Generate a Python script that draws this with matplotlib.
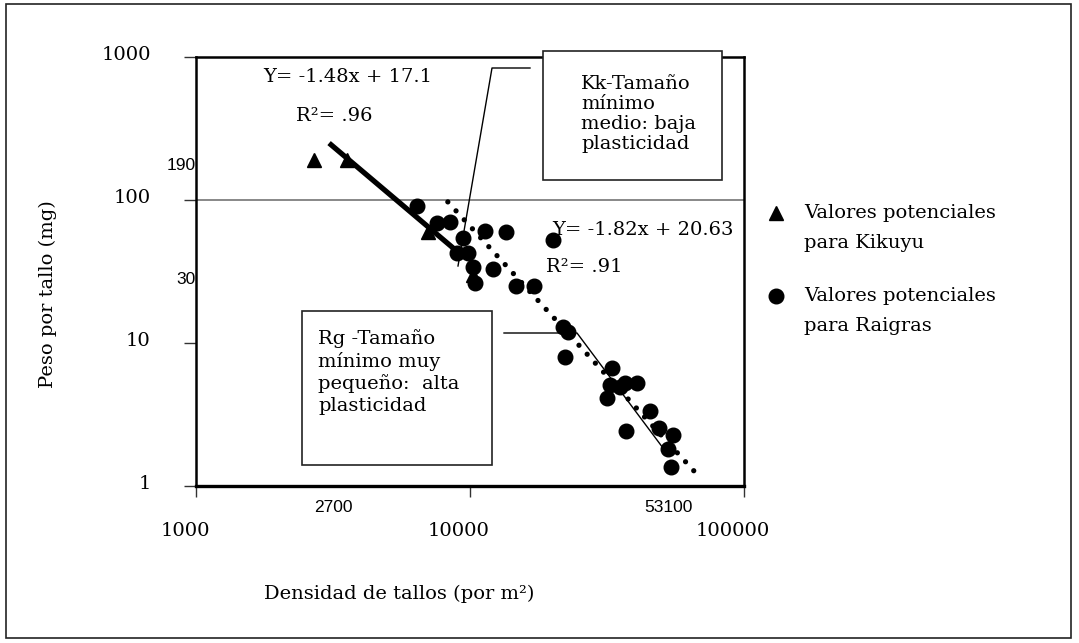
import matplotlib
matplotlib.use('Agg')
import matplotlib.pyplot as plt
import matplotlib.transforms as mtransforms
from matplotlib.patches import Rectangle
from matplotlib.lines import Line2D
from matplotlib.ticker import NullLocator

plt.rcParams['font.family'] = ['DejaVu Serif']
plt.rcParams['font.size'] = 14

W, H = 1079, 643

# valores potenciales (densidad de tallos por m2, peso por tallo en mg)
kk_density = [2700, 3550, 7030, 10260]
kk_weight = [190, 190, 60, 30]

rg_density = [6400, 7580, 8450, 9430, 11340, 13530, 20090, 8970, 9830, 10250,
              12130, 10430, 14720, 17120, 21850, 22790, 22220, 32980, 32430,
              31620, 35270, 36790, 40690, 45390, 37100, 48960, 55070, 52800,
              54150]
rg_weight = [91, 69, 70, 54, 61, 60, 52.5, 42.6, 42.6, 34,
             32.7, 26.3, 25, 25, 12.9, 11.9, 8.0, 6.7, 5.1,
             4.1, 4.9, 5.25, 5.25, 3.35, 2.42, 2.54, 2.27, 1.81,
             1.36]

# rectas de ajuste
kk_fit_x = [3060, 9200]
kk_fit_y = [250, 42]
rg_fit_x = [8300, 67300]
rg_fit_y = [97, 1.21]

x_ticks = [1000, 10000, 100000]
y_ticks = [1, 10, 100, 1000]
ref_y = [190, 30]
ref_x = [2700, 53100]


def fpx(x, y):
    # pixeles de la imagen -> fraccion de figura
    return x / W, 1 - y / H


fig = plt.figure(figsize=(W / 100, H / 100), dpi=100)
ax = fig.add_axes([196 / W, 1 - 486 / H, (744 - 196) / W, (486 - 57) / H])
ax.set_xscale('log')
ax.set_yscale('log')
ax.set_xlim(1000, 100000)
ax.set_ylim(1, 1000)
ax.xaxis.set_minor_locator(NullLocator())
ax.yaxis.set_minor_locator(NullLocator())

ax.axhline(100, color='#7f7f7f', lw=1.3, zorder=1)

ax.plot(kk_fit_x, kk_fit_y, color='black', lw=3.8, solid_capstyle='butt', zorder=2)
ax.plot(rg_fit_x, rg_fit_y, color='black', lw=3.8, linestyle=(0, (0.001, 2.3)),
        dash_capstyle='round', zorder=2)

ax.plot(kk_density, kk_weight, '^', color='black', ms=10, zorder=3)
ax.plot(rg_density, rg_weight, 'o', color='black', ms=10.5, zorder=3)

ax.set_xticks(x_ticks)
ax.set_xticklabels([str(v) for v in x_ticks])
ax.set_yticks(y_ticks)
ax.set_yticklabels([str(v) for v in y_ticks])
ax.tick_params(axis='x', direction='out', length=8, width=1, color='#333333',
               pad=18, labelsize=14)
ax.tick_params(axis='y', direction='out', length=8.6, width=1, color='#333333',
               pad=24, labelsize=14)
for lab in ax.get_xticklabels():
    lab.set_transform(lab.get_transform() +
                      mtransforms.ScaledTranslation(-0.11, 0, fig.dpi_scale_trans))
for lab in ax.get_yticklabels():
    lab.set_transform(lab.get_transform() +
                      mtransforms.ScaledTranslation(0, 0.04, fig.dpi_scale_trans))

for side in ['top', 'right', 'left']:
    ax.spines[side].set_linewidth(1.8)
ax.spines['bottom'].set_linewidth(2.4)

# valores de referencia
down = mtransforms.ScaledTranslation(0, -0.05, fig.dpi_scale_trans)
for v in ref_y:
    ax.text(1000, v, str(v), ha='right', va='center', fontsize=12.5,
            family=['Liberation Sans', 'DejaVu Sans'],
            transform=ax.transData + down)
xt = mtransforms.blended_transform_factory(ax.transData, ax.transAxes)
ax.text(ref_x[0], -0.051, str(ref_x[0]), transform=xt, ha='left', va='center',
        fontsize=12.5, family=['Liberation Sans', 'DejaVu Sans'])
ax.text(ref_x[1], -0.051, str(ref_x[1]), transform=xt, ha='center', va='center',
        fontsize=12.5, family=['Liberation Sans', 'DejaVu Sans'])

# ecuaciones
ax.text(*fpx(348, 77), 'Y= -1.48x + 17.1', transform=fig.transFigure,
        ha='center', va='center', zorder=1)
ax.text(*fpx(334, 116), 'R²= .96', transform=fig.transFigure,
        ha='center', va='center', zorder=1)
ax.text(*fpx(552, 230), 'Y= -1.82x + 20.63', transform=fig.transFigure,
        ha='left', va='center', zorder=1)
ax.text(*fpx(546, 267), 'R²= .91', transform=fig.transFigure,
        ha='left', va='center', zorder=1)

# cajas de texto
x0, y0 = fpx(543, 180)
x1, y1 = fpx(722, 51)
fig.add_artist(Rectangle((x0, y0), x1 - x0, y1 - y0, transform=fig.transFigure,
                         facecolor='white', edgecolor='#222222', lw=1.2, zorder=5))
fig.text(*fpx(581, 114), 'Kk-Tamaño\nmínimo\nmedio: baja\nplasticidad',
         ha='left', va='center', linespacing=1.12, zorder=6)

x0, y0 = fpx(302, 465)
x1, y1 = fpx(492, 311)
fig.add_artist(Rectangle((x0, y0), x1 - x0, y1 - y0, transform=fig.transFigure,
                         facecolor='white', edgecolor='#222222', lw=1.2, zorder=5))
fig.text(*fpx(318, 372), 'Rg -Tamaño\nmínimo muy\npequeño:  alta\nplasticidad',
         ha='left', va='center', linespacing=1.25, zorder=6)

# lineas de llamada
pts = [fpx(530, 68), fpx(492, 68), fpx(458, 266)]
fig.add_artist(Line2D([p[0] for p in pts], [p[1] for p in pts], color='black',
                      lw=1, transform=fig.transFigure, zorder=6))
pts = [fpx(504, 333), fpx(577, 333), fpx(663, 448)]
fig.add_artist(Line2D([p[0] for p in pts], [p[1] for p in pts], color='black',
                      lw=1, transform=fig.transFigure, zorder=6))

# leyenda
mx, my = fpx(776, 213)
fig.add_artist(Line2D([mx], [my], marker='^', color='black', ms=10,
                      linestyle='none', transform=fig.transFigure))
mx, my = fpx(776, 296)
fig.add_artist(Line2D([mx], [my], marker='o', color='black', ms=10.5,
                      linestyle='none', transform=fig.transFigure))
fig.text(*fpx(804, 228), 'Valores potenciales\npara Kikuyu', ha='left',
         va='center', linespacing=1.85)
fig.text(*fpx(804, 311), 'Valores potenciales\npara Raigras', ha='left',
         va='center', linespacing=1.85)

# titulos de ejes
fig.text(*fpx(48, 294), 'Peso por tallo (mg)', rotation=90, ha='center',
         va='center')
fig.text(*fpx(399, 594), 'Densidad de tallos (por m²)', ha='center',
         va='center')

# marco exterior
fig.add_artist(Rectangle(fpx(6, 638), (1071 - 6) / W, (638 - 4) / H,
                         transform=fig.transFigure, fill=False,
                         edgecolor='#222222', lw=1.2))

fig.savefig('out.png', dpi=100)
